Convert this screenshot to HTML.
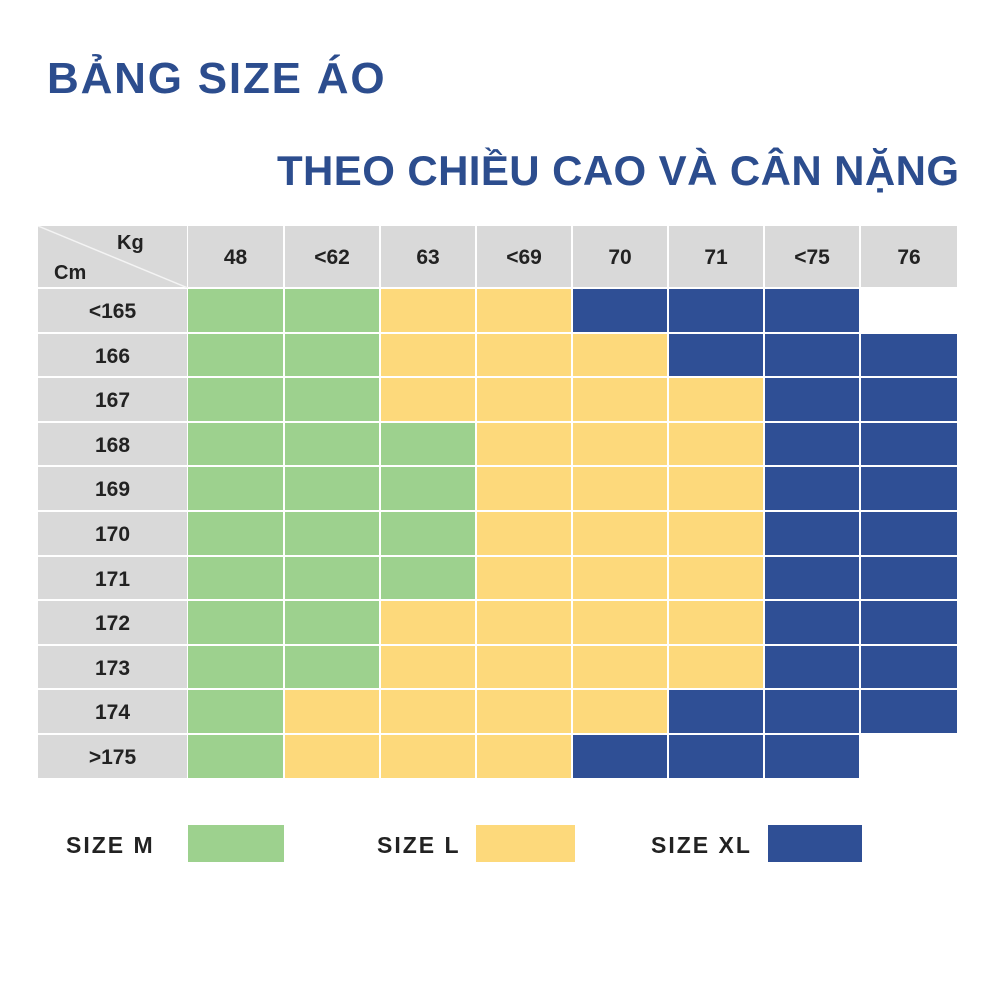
<!DOCTYPE html>
<html><head><meta charset="utf-8"><style>
body{margin:0;width:1000px;height:1000px;background:#fff;position:relative;overflow:hidden;font-family:"Liberation Sans",Arial,sans-serif}
.t{position:absolute;color:#2c4d8e;font-weight:bold;white-space:nowrap}
.c{position:absolute;box-sizing:border-box;display:flex;align-items:center;justify-content:center;font-weight:bold;font-size:21px;color:#222;padding-top:3px}
.G{background:#9dd18e}.Y{background:#fdd97b}.B{background:#2f4f95}.H{background:#d9d9d9}
.l{position:absolute;font-weight:bold;font-size:23px;color:#222;letter-spacing:1px}
</style></head><body>
<div class="t" style="left:47px;top:54px;font-size:44px;letter-spacing:1.8px">BẢNG SIZE ÁO</div>
<div class="t" style="left:277px;top:147px;font-size:42px;letter-spacing:0.4px">THEO CHIỀU CAO VÀ CÂN NẶNG</div>
<div id="g"></div>
<div class="l" style="left:66px;top:832px;letter-spacing:2px">SIZE M</div>
<div class="c G" style="left:188px;top:825px;width:96px;height:37px"></div>
<div class="l" style="left:377px;top:832px;letter-spacing:2px">SIZE L</div>
<div class="c Y" style="left:476px;top:825px;width:99px;height:37px"></div>
<div class="l" style="left:651px;top:832px;letter-spacing:2px">SIZE XL</div>
<div class="c B" style="left:768px;top:825px;width:94px;height:37px"></div>
<script>
var xs=[38,187,284,380,476,572,668,764,860,958];
var heads=["48","<62","63","<69","70","71","<75","76"];
var rows=[["<165","GGYYBBB-"],["166","GGYYYBBB"],["167","GGYYYYBB"],["168","GGGYYYBB"],["169","GGGYYYBB"],["170","GGGYYYBB"],["171","GGGYYYBB"],["172","GGYYYYBB"],["173","GGYYYYBB"],["174","GYYYYBBB"],[">175","GYYYBBB-"]];
var h="";
function cell(x0,x1,y0,y1,cls,txt){return '<div class="c '+cls+'" style="left:'+x0+'px;top:'+y0+'px;width:'+(x1-x0-2)+'px;height:'+(y1-y0-2)+'px">'+(txt||"")+'</div>';}
h+=cell(38,189,226,289,"H","");
h+='<div class="l" style="left:117px;top:232px;font-size:20px;letter-spacing:0">Kg</div><div class="l" style="left:54px;top:262px;font-size:20px;letter-spacing:0">Cm</div>';
h+='<svg style="position:absolute;left:38px;top:226px" width="150" height="62"><line x1="0" y1="0" x2="150" y2="62" stroke="#f4f4f4" stroke-width="1.5"/></svg>';
for(var i=0;i<8;i++)h+=cell(xs[i+1]+1,xs[i+2]+1,226,289,"H",heads[i].replace("<","&lt;"));
for(var r=0;r<11;r++){var y0=Math.round(289+r*44.6),y1=Math.round(289+(r+1)*44.6);
h+=cell(38,189,y0,y1,"H",rows[r][0].replace("<","&lt;").replace(">","&gt;"));
for(var i=0;i<8;i++){var k=rows[r][1][i];if(k!="-")h+=cell(xs[i+1]+1,xs[i+2]+1,y0,y1,k,"");}}
document.getElementById("g").innerHTML=h;
</script>
</body></html>
